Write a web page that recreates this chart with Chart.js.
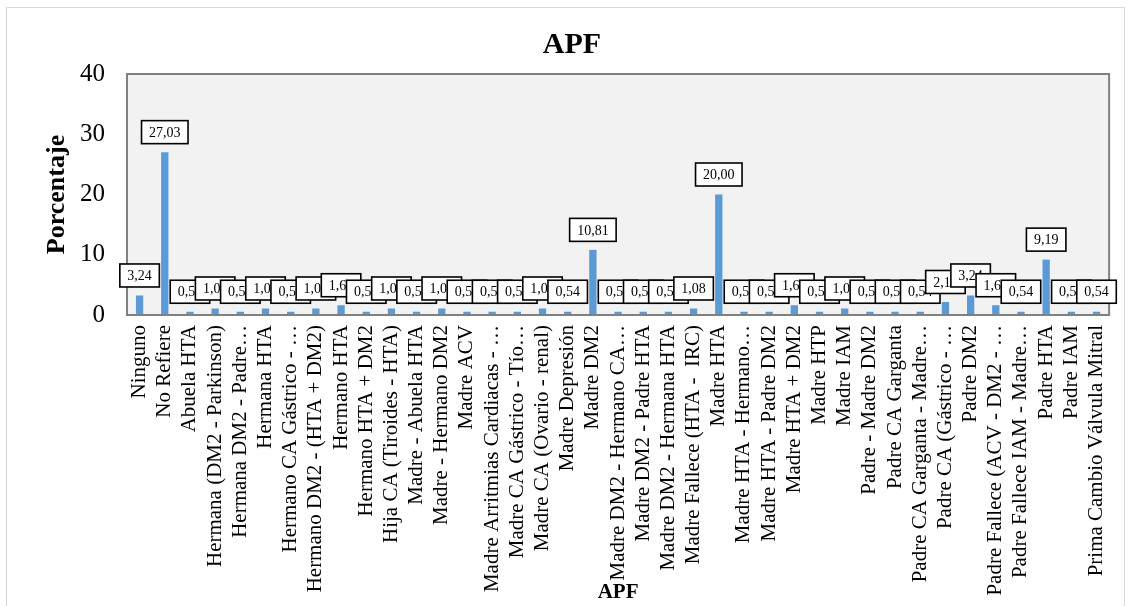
<!DOCTYPE html>
<html lang="es">
<head>
<meta charset="utf-8">
<title>APF</title>
<script src="https://cdn.jsdelivr.net/npm/chart.js@4/dist/chart.umd.min.js"></script>
<style>
  html, body { margin: 0; padding: 0; background: #ffffff; }
  #wrap { position: relative; width: 1132px; height: 606px; }
</style>
</head>
<body>
<div id="wrap"><canvas id="apf" width="1132" height="606"></canvas></div>
<script>
// Antecedentes patológicos familiares (APF) — porcentaje por categoría
const categories = [
  "Ninguno",
  "No Refiere",
  "Abuela HTA",
  "Hermana (DM2 - Parkinson)",
  "Hermana DM2 - Padre…",
  "Hermana HTA",
  "Hermano CA Gástrico - …",
  "Hermano DM2 - (HTA + DM2)",
  "Hermano HTA",
  "Hermano HTA + DM2",
  "Hija CA (Tiroides - HTA)",
  "Madre - Abuela HTA",
  "Madre - Hermano DM2",
  "Madre ACV",
  "Madre Arritmias Cardiacas - …",
  "Madre CA Gástrico - Tío…",
  "Madre CA (Ovario - renal)",
  "Madre Depresión",
  "Madre DM2",
  "Madre DM2 - Hermano CA…",
  "Madre DM2 - Padre HTA",
  "Madre DM2 - Hermana HTA",
  "Madre Fallece (HTA -  IRC)",
  "Madre HTA",
  "Madre HTA - Hermano…",
  "Madre HTA - Padre DM2",
  "Madre HTA + DM2",
  "Madre HTP",
  "Madre IAM",
  "Padre - Madre DM2",
  "Padre CA Garganta",
  "Padre CA Garganta - Madre…",
  "Padre CA (Gástrico - …",
  "Padre DM2",
  "Padre Fallece (ACV - DM2 - …",
  "Padre Fallece IAM - Madre…",
  "Padre HTA",
  "Padre IAM",
  "Prima Cambio Válvula Mitral"
];

const porcentajes = [
  3.24, 27.03, 0.54, 1.08, 0.54, 1.08, 0.54, 1.08, 1.62, 0.54,
  1.08, 0.54, 1.08, 0.54, 0.54, 0.54, 1.08, 0.54, 10.81, 0.54,
  0.54, 0.54, 1.08, 20.00, 0.54, 0.54, 1.62, 0.54, 1.08, 0.54,
  0.54, 0.54, 2.16, 3.24, 1.62, 0.54, 9.19, 0.54, 0.54
];

const yTicks = [0, 10, 20, 30, 40];

const SERIF = "'Liberation Serif', 'Times New Roman', serif";

// Chart frame, plot background and plot border
const framePlugin = {
  id: 'frame',
  beforeDraw(chart) {
    const { ctx, chartArea: a } = chart;
    ctx.save();
    ctx.fillStyle = '#ffffff';
    ctx.fillRect(0, 0, chart.width, chart.height);
    ctx.strokeStyle = '#d9d9d9';
    ctx.lineWidth = 1;
    ctx.strokeRect(6.5, 7.5, 1118, 650);
    ctx.fillStyle = '#f2f2f2';
    ctx.fillRect(a.left, a.top, a.right - a.left, a.bottom - a.top);
    ctx.restore();
  },
  afterDatasetsDraw(chart) {
    const { ctx, chartArea: a } = chart;
    ctx.save();
    ctx.strokeStyle = '#808080';
    ctx.lineWidth = 2;
    ctx.strokeRect(a.left, a.top, a.right - a.left, a.bottom - a.top);
    ctx.restore();
  }
};

// Boxed value labels above each bar (later boxes overlap earlier ones)
const valueBoxPlugin = {
  id: 'valueBoxes',
  afterDraw(chart) {
    const { ctx } = chart;
    const meta = chart.getDatasetMeta(0);
    const data = chart.data.datasets[0].data;
    ctx.save();
    ctx.font = '14px ' + SERIF;
    ctx.textAlign = 'center';
    ctx.textBaseline = 'middle';
    meta.data.forEach((bar, i) => {
      const text = data[i].toFixed(2).replace('.', ',');
      const w = ctx.measureText(text).width + 15;
      const h = 23;
      const cx = bar.x;
      const cy = bar.y - 20;
      ctx.fillStyle = '#ffffff';
      ctx.fillRect(cx - w / 2, cy - h / 2, w, h);
      ctx.strokeStyle = '#000000';
      ctx.lineWidth = 1.6;
      ctx.strokeRect(cx - w / 2, cy - h / 2, w, h);
      ctx.fillStyle = '#000000';
      ctx.fillText(text, cx, cy + 1);
    });
    ctx.restore();
  }
};

new Chart(document.getElementById('apf'), {
  type: 'bar',
  data: {
    labels: categories,
    datasets: [{
      label: 'APF',
      data: porcentajes,
      backgroundColor: '#5b9bd5',
      borderWidth: 0,
      categoryPercentage: 1,
      barPercentage: 0.29
    }]
  },
  options: {
    responsive: false,
    animation: false,
    devicePixelRatio: 1,
    layout: { padding: { left: 33, right: 21, top: 0, bottom: 0 } },
    plugins: {
      legend: { display: false },
      tooltip: { enabled: false },
      title: {
        display: true,
        text: 'APF',
        color: '#000000',
        font: { family: SERIF, size: 30, weight: 'bold', lineHeight: 1.2 },
        padding: { top: 27, bottom: 11 }
      }
    },
    scales: {
      x: {
        grid: { display: false, drawTicks: false },
        border: { display: false },
        ticks: {
          autoSkip: false,
          minRotation: 90,
          maxRotation: 90,
          padding: 10,
          color: '#000000',
          font: { family: SERIF, size: 21 }
        },
        title: {
          display: true,
          text: 'APF',
          color: '#000000',
          font: { family: SERIF, size: 21, weight: 'bold', lineHeight: 1.2 },
          padding: { top: 0, bottom: 1 }
        },
        afterFit(scale) { scale.height = 291; }
      },
      y: {
        min: yTicks[0],
        max: yTicks[yTicks.length - 1],
        afterBuildTicks(scale) { scale.ticks = yTicks.map(v => ({ value: v })); },
        grid: { display: false, drawTicks: false },
        border: { display: false },
        ticks: {
          padding: 22,
          color: '#000000',
          font: { family: SERIF, size: 25 }
        },
        title: {
          display: true,
          text: 'Porcentaje',
          color: '#000000',
          font: { family: SERIF, size: 26, weight: 'bold', lineHeight: 1.2 },
          padding: { top: 9, bottom: 0 }
        },
        afterFit(scale) { scale.width = 94; }
      }
    }
  },
  plugins: [framePlugin, valueBoxPlugin]
});
</script>
</body>
</html>
